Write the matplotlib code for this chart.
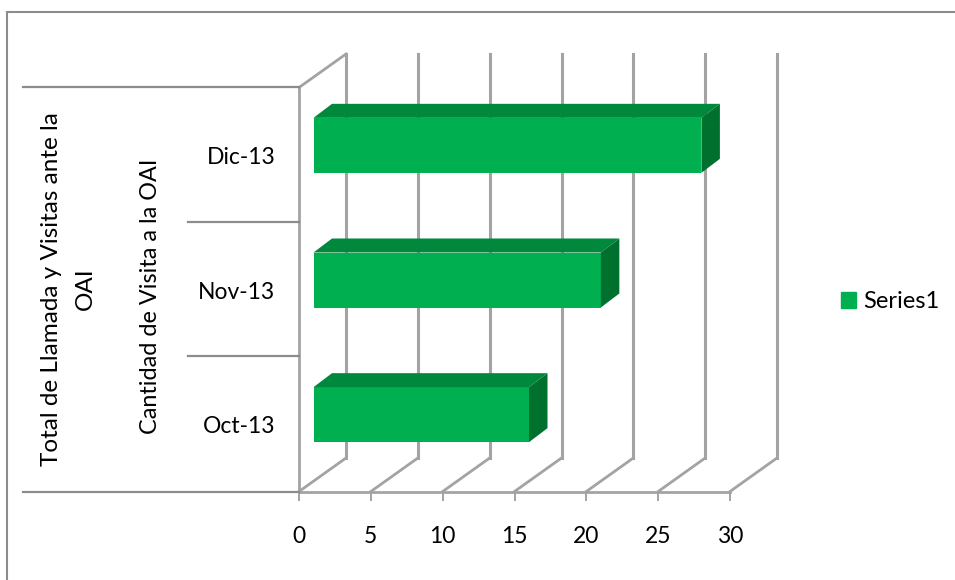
import matplotlib
matplotlib.use("Agg")
import matplotlib.pyplot as plt
from matplotlib.patches import Patch, Rectangle
from matplotlib.transforms import ScaledTranslation

plt.rcParams['font.family'] = ['Lato', 'DejaVu Sans']

categories = ['Oct-13', 'Nov-13', 'Dic-13']
values = [15, 20, 27]
xticks = [0, 5, 10, 15, 20, 25, 30]
series_name = 'Series1'

GREEN = '#00B050'
GREEN_TOP = '#00883D'
GREEN_SIDE = '#00702F'
GRID = '#A3A3A3'
FRAME = '#8C8C8C'
W, H = 955, 580

fig = plt.figure(figsize=(W / 100, H / 100), dpi=100)
ax = fig.add_axes([299.0 / W, (H - 491.5) / H, 431 / W, 404 / H])
ax.set_xlim(0, 30)
ax.set_ylim(-0.5, 2.5)
ax.patch.set_visible(False)

# px per unit on both axes, used for the fake 3d depth
px_x = 431 / 30
px_y = 404 / 3
wall_dx = 47 / px_x
wall_dy = 33.5 / px_y
bar_off_x = 14.5 / px_x
bar_off_y = 9.5 / px_y
bar_dx = 18.5 / px_x
bar_dy = 14 / px_y
bar_h = 55 / px_y

# back wall and floor lines
for t in xticks:
    ax.plot([t, t + wall_dx], [-0.5, -0.5 + wall_dy], color=GRID, lw=2, clip_on=False, zorder=1)
    ax.plot([t + wall_dx, t + wall_dx], [-0.5 + wall_dy, 2.5 + wall_dy], color=GRID, lw=2.2, clip_on=False, zorder=1)
ax.plot([0, wall_dx], [2.5, 2.5 + wall_dy], color=GRID, lw=2, clip_on=False, zorder=1)

# bars
for i, v in enumerate(values):
    y = i + bar_off_y
    ax.barh(y, v, left=bar_off_x, height=bar_h, color=GREEN, zorder=3)
    x0 = bar_off_x
    x1 = bar_off_x + v
    top = y + bar_h / 2
    bot = y - bar_h / 2
    ax.fill([x0, x1, x1 + bar_dx, x0 + bar_dx], [top, top, top + bar_dy, top + bar_dy],
            color=GREEN_TOP, lw=0, clip_on=False, zorder=3)
    ax.fill([x1, x1 + bar_dx, x1 + bar_dx, x1], [bot, bot + bar_dy, top + bar_dy, top],
            color=GREEN_SIDE, lw=0, clip_on=False, zorder=3)

# axes
for s in ['top', 'right']:
    ax.spines[s].set_visible(False)
ax.spines['left'].set_color(GRID)
ax.spines['left'].set_linewidth(2)
ax.spines['bottom'].set_color(GRID)
ax.spines['bottom'].set_linewidth(2)
ax.set_xticks(xticks)
ax.set_yticks(range(len(categories)))
ax.set_yticklabels(categories)
ax.tick_params(axis='x', length=6.5, width=1.4, color=GRID, pad=18, labelsize=16.5, labelcolor='black')
ax.tick_params(axis='y', length=0, pad=17, labelsize=16.5, labelcolor='black')
# category labels sit a bit off the tick position
for lab in ax.get_yticklabels():
    lab.set_transform(lab.get_transform() + ScaledTranslation(0, -0.5 / 100, fig.dpi_scale_trans))

# multi level category axis lines, in figure pixels
def fig_line(x0, x1, y):
    fig.add_artist(plt.Line2D([x0 / W, x1 / W], [1 - y / H, 1 - y / H], color=FRAME, lw=1.6))

fig_line(23, 299, 87)
fig_line(23, 299, 491.5)
fig_line(188, 299, 222)
fig_line(188, 299, 356)

fig.text(52 / W, 1 - 289 / H, 'Total de Llamada y Visitas ante la', rotation=90, ha='center', va='center', fontsize=17.5)
fig.text(85 / W, 1 - 289 / H, 'OAI', rotation=90, ha='center', va='center', fontsize=17.5)
fig.text(150 / W, 1 - 296 / H, 'Cantidad de Visita a la OAI', rotation=90, ha='center', va='center', fontsize=16.8)

# chart frame, open on the right and bottom like the original crop
fig.add_artist(Rectangle((7 / W, -0.1), 1.1, 1.1 - 12 / H, fill=False, ec=FRAME, lw=1.5,
                         transform=fig.transFigure))

fig.legend(handles=[Patch(color=GREEN, label=series_name)], loc='center left',
           bbox_to_anchor=(822 / W, 1 - 302 / H), frameon=False, fontsize=17,
           handlelength=0.64, handleheight=0.64, handletextpad=0.3, borderpad=0.3)

fig.savefig('out.png', dpi=100)
